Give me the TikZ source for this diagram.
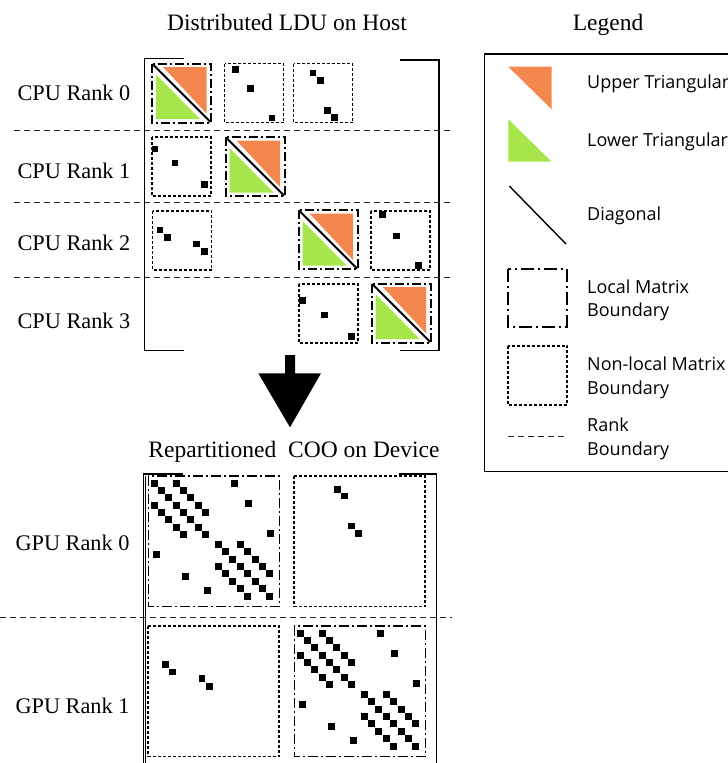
\documentclass[tikz,border=0pt]{standalone}
\usepackage{fontspec}
\setmainfont{Liberation Serif}
\newfontfamily\legendfont{Open Sans}
\definecolor{uppercol}{RGB}{244,135,78}
\definecolor{lowercol}{RGB}{166,230,74}
\tikzset{
  lbl/.style={font=\fontsize{22.3}{26}\selectfont, inner sep=0pt},
  ttl/.style={font=\fontsize{23.5}{28}\selectfont, inner sep=0pt, anchor=base},
  lgtxt/.style={font=\legendfont\fontsize{18}{24}\selectfont, inner sep=0pt, anchor=base west},
  rankline/.style={draw=black!85, line width=1.4pt, dash pattern=on 6pt off 4pt},
  localbd/.style={draw=black, line width=2pt, dash pattern=on 9pt off 3pt on 2pt off 3pt},
  nonlocalbd/.style={draw=black, line width=1.8pt, dash pattern=on 3pt off 2pt},
  bracketline/.style={draw=black, line width=1.5pt},
  % local LDU block of the host matrix
  ldublock/.pic={
    \fill[uppercol] (11,3.5) -- (54.5,3.5) -- (54.5,50) -- cycle;
    \fill[lowercol] (4,11) -- (4,55.5) -- (48,55.5) -- cycle;
    \draw[white, line width=5pt] (1.5,1.5) -- (57.5,57.5);
    \draw[black, line width=2pt] (0.5,0.5) -- (58.5,58.5);
    \draw[localbd] (0,0) rectangle (59,59);
  },
  % local COO block on the device
  coolocal/.pic={
    \foreach \i in {0,...,7}{
      \fill (5.7+7.35*\i-3.5, 7+7.35*\i-3.5) rectangle ++(7,7);
      \fill (69.7+7.4*\i-3.5, 68.3+7.4*\i-3.5) rectangle ++(7,7);
    }
    \foreach \i in {0,...,4}{
      \fill (5.7+7.35*\i+22.05-3.5, 7+7.35*\i-3.5) rectangle ++(7,7);
      \fill (5.7+7.35*\i-3.5, 7+7.35*\i+22.05-3.5) rectangle ++(7,7);
      \fill (69.7+7.4*\i+22.2-3.5, 68.3+7.4*\i-3.5) rectangle ++(7,7);
      \fill (69.7+7.4*\i-3.5, 68.3+7.4*\i+22.2-3.5) rectangle ++(7,7);
    }
    \foreach \p/\q in {86.2/7,100.5/27.7,122/57.3,8/78.3,37.3/100,59.3/114}{
      \fill (\p-3.5,\q-3.5) rectangle ++(7,7);
    }
    \draw[localbd, line width=1.6pt, dash pattern=on 10pt off 3pt on 2pt off 3pt] (0,0) rectangle (131,130.5);
  }
}
\newcommand{\nzdot}[2]{\fill (#1-3.4,#2-3.4) rectangle ++(6.8,6.8);}

\begin{document}
\begin{tikzpicture}[x=1pt,y=-1pt]
\useasboundingbox (0,0) rectangle (728,763);

% ---------- titles ----------
\node[ttl] (hosttitle) at (287,30) {Distributed LDU on Host};
\node[ttl] (legtitle) at (608,30) {Legend};
\node[ttl] (devtitle) at (294,457) {Repartitioned\ \ COO on Device};

% ---------- host matrix ----------
\draw[bracketline] (184,58.3) -- (144.7,58.3) -- (144.7,350.3) -- (184,350.3);
\draw[bracketline] (400,60) -- (439,60) -- (439,350.5) -- (400,350.5);

\foreach \yy in {130.7,202.3,277.3}{
  \draw[rankline] (14,\yy) -- (452,\yy);
}

\node[lbl] (cpu0) at (74,93) {CPU Rank 0};
\node[lbl] (cpu1) at (74,170.5) {CPU Rank 1};
\node[lbl] (cpu2) at (74,243) {CPU Rank 2};
\node[lbl] (cpu3) at (74,321) {CPU Rank 3};

% rank 0
\pic at (152,63.5) {ldublock};
\begin{scope}[shift={(224.5,63.5)}]
  \nzdot{11}{5.7}\nzdot{25.7}{25}\nzdot{47.4}{54.4}
  \draw[nonlocalbd] (0,0) rectangle (59,59);
\end{scope}
\begin{scope}[shift={(293.5,63.5)}]
  \nzdot{19.4}{9.4}\nzdot{26.7}{16.7}\nzdot{34}{46.7}\nzdot{41}{54}
  \draw[nonlocalbd] (0,0) rectangle (59,59);
\end{scope}

% rank 1
\begin{scope}[shift={(152.3,137)}]
  \nzdot{2.7}{12}\nzdot{22.7}{26}\nzdot{52}{47.7}
  \draw[nonlocalbd] (0,0) rectangle (59,59);
\end{scope}
\pic at (225.5,137) {ldublock};

% rank 2
\begin{scope}[shift={(152.5,211)}]
  \nzdot{7.5}{19}\nzdot{14.8}{26.3}\nzdot{44.2}{33}\nzdot{51.8}{40.3}
  \draw[nonlocalbd] (0,0) rectangle (59,59);
\end{scope}
\pic at (298.5,210) {ldublock};
\begin{scope}[shift={(371,211)}]
  \nzdot{11.7}{3.3}\nzdot{25.7}{25}\nzdot{47.7}{54.3}
  \draw[nonlocalbd] (0,0) rectangle (59,59);
\end{scope}

% rank 3
\begin{scope}[shift={(299,284)}]
  \nzdot{3.7}{16.7}\nzdot{25.3}{31}\nzdot{52.3}{52.7}
  \draw[nonlocalbd] (0,0) rectangle (59,59);
\end{scope}
\pic at (371.7,283.5) {ldublock};

% ---------- transfer arrow ----------
\fill (285,355) -- (295,355) -- (295,373.3) -- (321,373.3) -- (290,427.3)
  -- (258.3,373.3) -- (285,373.3) -- cycle;

% ---------- device matrix ----------
\draw[bracketline, line width=1.2pt] (183,474) -- (143.3,474) -- (143.3,765);
\draw[bracketline, line width=1pt] (145.9,476) -- (145.9,765);
\draw[bracketline] (399,474) -- (436.7,474) -- (436.7,765);
\draw[rankline] (0,617.3) -- (452,617.3);

\node[lbl] (gpu0) at (72.5,543) {GPU Rank 0};
\node[lbl] (gpu1) at (72.5,706) {GPU Rank 1};

\pic at (148.3,476) {coolocal};
\begin{scope}[shift={(294.3,476)}]
  \nzdot{43}{13.3}\nzdot{50.4}{20}\nzdot{57}{50}\nzdot{64.4}{57.3}
  \draw[nonlocalbd] (0,0) rectangle (131,130.5);
\end{scope}
\begin{scope}[shift={(148.3,626)}]
  \nzdot{17}{38.7}\nzdot{24.4}{46}\nzdot{53.7}{52.7}\nzdot{61}{60.7}
  \draw[nonlocalbd] (0,0) rectangle (131,130.5);
\end{scope}
\pic at (294.3,626) {coolocal};

% ---------- legend ----------
\draw[black, line width=1.5pt] (484.3,54) rectangle (745,471.7);
\fill[uppercol] (508.3,66.7) -- (551.7,66.7) -- (551.7,109.3) -- cycle;
\fill[lowercol] (508.3,119.3) -- (508.3,161.7) -- (551.7,161.7) -- cycle;
\draw[black, line width=1.4pt] (509.3,186) -- (566,244);
\draw[localbd, line width=1.7pt, dash pattern=on 13pt off 4pt on 2pt off 4pt] (508,269) rectangle (567,326.7);
\draw[nonlocalbd] (508,345.7) rectangle (567,405);
\draw[rankline] (508,436.7) -- (566,436.7);

\node[lgtxt] (lgup) at (587,88.3) {Upper Triangular};
\node[lgtxt] (lglow) at (587,146.7) {Lower Triangular};
\node[lgtxt] (lgdiag) at (587,220) {Diagonal};
\node[lgtxt] (lglocA) at (587,293.3) {Local Matrix};
\node[lgtxt] (lglocB) at (587,316) {Boundary};
\node[lgtxt] (lgnlA) at (587,370) {Non-local Matrix};
\node[lgtxt] (lgnlB) at (587,394) {Boundary};
\node[lgtxt] (lgrkA) at (587,431) {Rank};
\node[lgtxt] (lgrkB) at (587,455) {Boundary};
\end{tikzpicture}
\end{document}
